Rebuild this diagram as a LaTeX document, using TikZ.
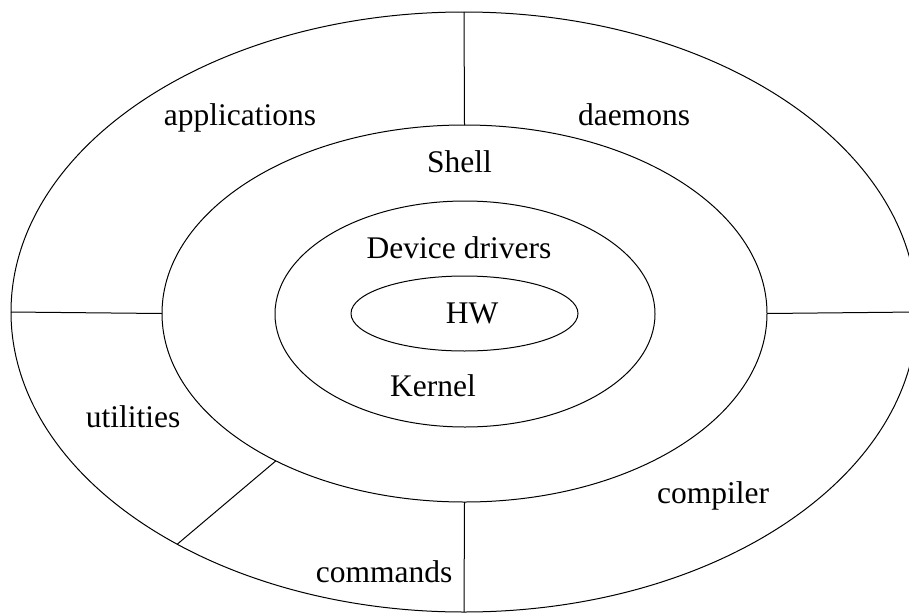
\documentclass[tikz,border=0pt]{standalone}
\usepackage{fontspec}
\setmainfont{Liberation Serif}
\usetikzlibrary{shapes.geometric}
\begin{document}
\begin{tikzpicture}[x=1pt,y=-1pt,
  ring/.style={draw=black,line width=1pt,ellipse,inner sep=0pt,outer sep=0pt},
  lbl/.style={anchor=base,inner sep=0pt,font=\fontsize{31.5}{36}\selectfont},
  divider/.style={draw=black,line width=1pt}]
\useasboundingbox (0,0) rectangle (909,613);
\clip (0,0) rectangle (909,613);
\node[ring,minimum width=906pt,minimum height=600pt] (outer) at (464,312) {};
\node[ring,minimum width=605pt,minimum height=377pt] (mid) at (464.5,313.5) {};
\node[ring,minimum width=380pt,minimum height=226pt] (inner) at (465,314) {};
\node[ring,minimum width=227pt,minimum height=75pt] (hw) at (464.5,313.5) {};
\draw[divider] (outer.north) -- (mid.north);
\draw[divider] (outer.west) -- (mid.west);
\draw[divider] (mid.east) -- (outer.east);
\draw[divider] (mid.south) -- (outer.south);
\draw[divider] (mid.218.6) -- (outer.219.5);
\node[lbl] (applications) at (240,125) {applications};
\node[lbl] (daemons) at (634,125) {daemons};
\node[lbl] (shell) at (459.5,172) {Shell};
\node[lbl] (drivers) at (459,258) {Device drivers};
\node[lbl] (hwl) at (472,323) {HW};
\node[lbl] (kernel) at (433,396) {Kernel};
\node[lbl] (utilities) at (133,427) {utilities};
\node[lbl] (compiler) at (713,503) {compiler};
\node[lbl] (commands) at (384,582) {commands};
\end{tikzpicture}
\end{document}
